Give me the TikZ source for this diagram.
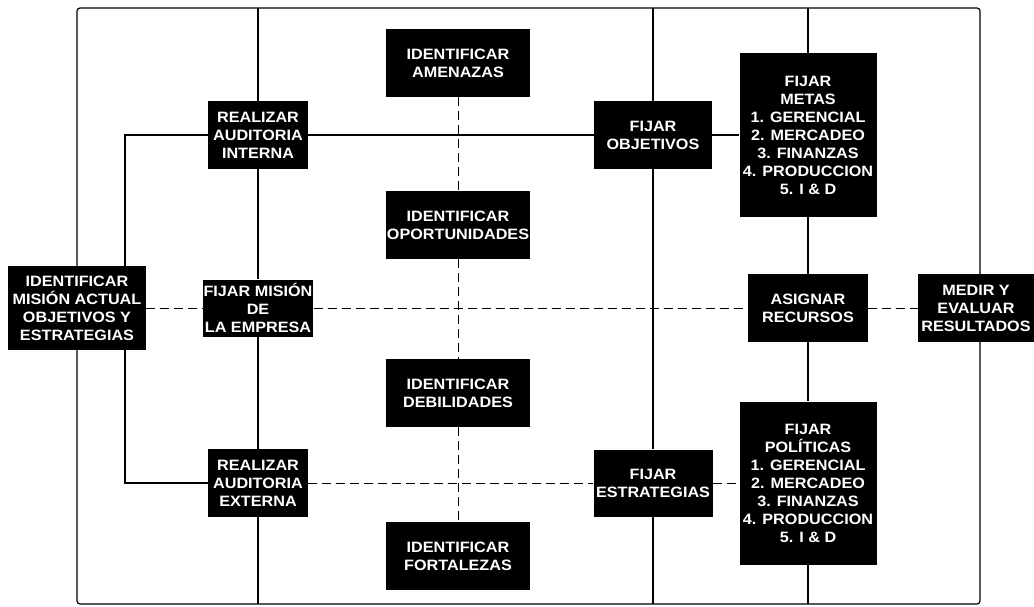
\documentclass[tikz,border=0pt]{standalone}
\usepackage{fontspec}
\setmainfont{Liberation Sans}[BoldFeatures={FakeStretch=1.08}]
\usetikzlibrary{calc}

\tikzset{
  blk/.style={fill=black, text=white, align=center, inner sep=1pt,
              font=\fontsize{15}{18}\selectfont\bfseries},
  swot/.style={blk, minimum width=144pt, minimum height=68pt},
  link/.style={draw=black, line width=1.2pt},
  faint/.style={draw=black, line width=0.9pt, dash pattern=on 9pt off 5pt}
}

\begin{document}
\begin{tikzpicture}[x=1pt,y=-1pt]
\useasboundingbox (0,0) rectangle (1034,607);

% rails of the outer frame
\coordinate (top) at (0,8);
\coordinate (bottom) at (0,604);
\coordinate (loopx) at (125,0);
\coordinate (rightx) at (980,0);

% left part
\node[blk, minimum width=138pt, minimum height=84pt] (mision) at (77,308)
  {IDENTIFICAR\\MISIÓN ACTUAL\\OBJETIVOS Y\\ESTRATEGIAS};
\node[blk, minimum width=110pt, minimum height=57pt] (fmision) at (258,308)
  {FIJAR MISIÓN\\DE\\LA EMPRESA};
\node[blk, minimum width=100pt, minimum height=68pt] (ainterna) at (258,135)
  {REALIZAR\\AUDITORIA\\INTERNA};
\node[blk, minimum width=100pt, minimum height=68pt] (aexterna) at (258,483)
  {REALIZAR\\AUDITORIA\\EXTERNA};

% the four swot boxes
\node[swot] (amenazas) at (458,63) {IDENTIFICAR\\AMENAZAS};
\node[swot] (oportunidades) at (458,225) {IDENTIFICAR\\OPORTUNIDADES};
\node[swot] (debilidades) at (458,393) {IDENTIFICAR\\DEBILIDADES};
\node[swot] (fortalezas) at (458,556) {IDENTIFICAR\\FORTALEZAS};

% right part
\node[blk, minimum width=118pt, minimum height=68pt] (fobjetivos) at (653,135)
  {FIJAR\\OBJETIVOS};
\node[blk, minimum width=119pt, minimum height=67pt] (festrategias) at (653,483)
  {FIJAR\\ESTRATEGIAS};
\node[blk, minimum width=137pt, minimum height=164pt] (metas) at (808,135)
  {FIJAR\\METAS\\1. GERENCIAL\\2. MERCADEO\\3. FINANZAS\\4. PRODUCCION\\5. I \& D};
\node[blk, minimum width=137pt, minimum height=163pt] (politicas) at (808,483)
  {FIJAR\\POLÍTICAS\\1. GERENCIAL\\2. MERCADEO\\3. FINANZAS\\4. PRODUCCION\\5. I \& D};
\node[blk, minimum width=120pt, minimum height=68pt] (asignar) at (808,308)
  {ASIGNAR\\RECURSOS};
\node[blk, minimum width=116pt, minimum height=68pt] (medir) at (976,308)
  {MEDIR Y\\EVALUAR\\RESULTADOS};

% outer frame
\draw[link, rounded corners=3pt] (mision.north) |- (top -| rightx) -- (medir.north -| rightx);
\draw[link, rounded corners=3pt] (mision.south) |- (bottom -| rightx) -- (medir.south -| rightx);

% inner loop to the audits
\draw[link] (mision.north -| loopx) |- (ainterna.west);
\draw[link] (mision.south -| loopx) |- (aexterna.west);

% columns
\draw[link] (ainterna.north) -- (ainterna.north |- top);
\draw[link] (ainterna) -- (fmision);
\draw[link] (fmision) -- (aexterna);
\draw[link] (aexterna.south) -- (aexterna.south |- bottom);

\draw[faint] (amenazas) -- (oportunidades);
\draw[faint] (oportunidades) -- (debilidades);
\draw[faint] (debilidades) -- (fortalezas);

\draw[link] (fobjetivos.north) -- (fobjetivos.north |- top);
\draw[link] (fobjetivos) -- (festrategias);
\draw[link] (festrategias.south) -- (festrategias.south |- bottom);

\draw[link] (metas.north) -- (metas.north |- top);
\draw[link] (metas) -- (asignar);
\draw[link] (asignar) -- (politicas);
\draw[link] (politicas.south) -- (politicas.south |- bottom);

% rows
\draw[link] (ainterna) -- (fobjetivos);
\draw[link] (fobjetivos) -- (metas);
\draw[faint] (aexterna) -- (festrategias);
\draw[faint] (festrategias) -- (politicas);
\draw[faint] (mision) -- (fmision);
\draw[faint] (fmision) -- (asignar);
\draw[faint] (asignar) -- (medir);
\end{tikzpicture}
\end{document}
